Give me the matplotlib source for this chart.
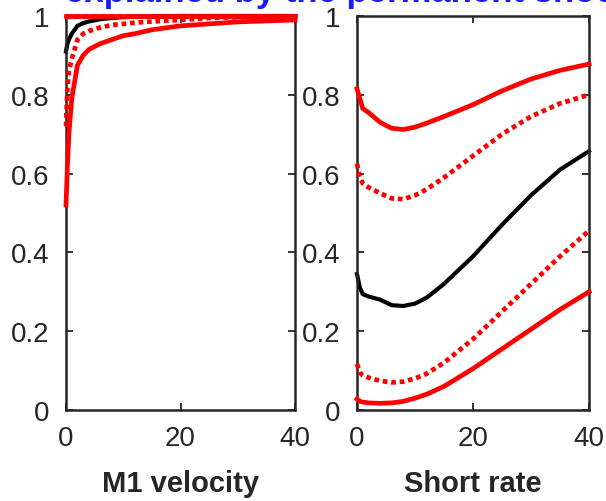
import matplotlib
matplotlib.use("Agg")
import matplotlib.pyplot as plt

plt.rcParams['font.family'] = ['Liberation Sans', 'DejaVu Sans']

# ---- data: left panel (M1 velocity) ----
x_left = [0, 0.25, 0.5, 1, 2, 3, 4, 6, 8, 10, 12, 15, 20, 25, 30, 40]
left_median = [0.91, 0.93, 0.94, 0.955, 0.975, 0.982, 0.986, 0.992, 0.995, 0.997, 0.998, 0.999, 1.0, 1.0, 1.0, 1.0]
left_lo68 = [0.72, 0.82, 0.86, 0.89, 0.94, 0.955, 0.962, 0.971, 0.977, 0.98, 0.983, 0.986, 0.99, 0.995, 0.997, 0.999]
left_lo90 = [0.52, 0.62, 0.70, 0.79, 0.875, 0.90, 0.915, 0.93, 0.94, 0.95, 0.955, 0.965, 0.975, 0.98, 0.985, 0.99]
left_hi68 = [1.0] * len(x_left)
left_hi90 = [1.0] * len(x_left)

# ---- data: right panel (Short rate) ----
x_right = [0, 0.5, 1, 2, 4, 6, 8, 10, 12, 15, 20, 25, 30, 35, 40]
right_hi90 = [0.815, 0.79, 0.765, 0.755, 0.73, 0.715, 0.712, 0.718, 0.728, 0.745, 0.775, 0.81, 0.84, 0.862, 0.878]
right_hi68 = [0.625, 0.59, 0.575, 0.565, 0.55, 0.537, 0.535, 0.545, 0.56, 0.59, 0.645, 0.70, 0.745, 0.778, 0.80]
right_median = [0.345, 0.31, 0.294, 0.288, 0.28, 0.266, 0.264, 0.27, 0.285, 0.32, 0.39, 0.47, 0.545, 0.61, 0.657]
right_lo68 = [0.117, 0.095, 0.088, 0.082, 0.074, 0.07, 0.072, 0.08, 0.092, 0.12, 0.18, 0.25, 0.32, 0.39, 0.455]
right_lo90 = [0.028, 0.022, 0.02, 0.018, 0.017, 0.018, 0.022, 0.03, 0.04, 0.06, 0.105, 0.155, 0.205, 0.255, 0.30]

xticks = [0, 20, 40]
yticks = [0, 0.2, 0.4, 0.6, 0.8, 1]
ytick_labels = ['0', '0.2', '0.4', '0.6', '0.8', '1']
xlabels = ['M1 velocity', 'Short rate']
title_text = 'explained by the permanent shock'

W, H = 606, 502
fig = plt.figure(figsize=(W / 100, H / 100), dpi=100)

ax_top, ax_bot = 17, 411
lefts = [(66, 295), (357, 589)]

axes = []
for (l, r) in lefts:
    ax = fig.add_axes([l / W, (H - ax_bot) / H, (r - l) / W, (ax_bot - ax_top) / H])
    axes.append(ax)

dot = (0, (1, 0.8))
red = '#ff0000'

def draw(ax, x, med, lo68, hi68, lo90, hi90):
    ax.plot(x, hi90, color=red, lw=3.4, clip_on=False, zorder=3)
    ax.plot(x, lo90, color=red, lw=3.4, clip_on=False, zorder=3)
    ax.plot(x, hi68, color=red, lw=3.4, ls=dot, dash_capstyle='butt', clip_on=False, zorder=3)
    ax.plot(x, lo68, color=red, lw=3.4, ls=dot, dash_capstyle='butt', clip_on=False, zorder=3)
    ax.plot(x, med, color='black', lw=3.0, clip_on=False, zorder=2)

draw(axes[0], x_left, left_median, left_lo68, left_hi68, left_lo90, left_hi90)
draw(axes[1], x_right, right_median, right_lo68, right_hi68, right_lo90, right_hi90)

for ax, lab in zip(axes, xlabels):
    ax.set_xlim(0, 40)
    ax.set_ylim(0, 1)
    ax.set_xticks(xticks)
    ax.set_yticks(yticks)
    ax.set_yticklabels(ytick_labels)
    ax.tick_params(direction='in', length=5, width=1.3, top=True, right=True,
                   labelsize=20, colors='#262626')
    ax.tick_params(axis='y', pad=12)
    ax.tick_params(axis='x', pad=11)
    for s in ax.spines.values():
        s.set_linewidth(1.8)
        s.set_color('#262626')
    ax.set_xlabel(lab, fontsize=21, fontweight='bold', color='#262626', labelpad=13)

fig.text(65 / W, 1 - 2 / H, title_text, color='#1a1aff', fontsize=25,
         fontweight='bold', ha='left', va='baseline')

fig.savefig('out.png', dpi=100)
